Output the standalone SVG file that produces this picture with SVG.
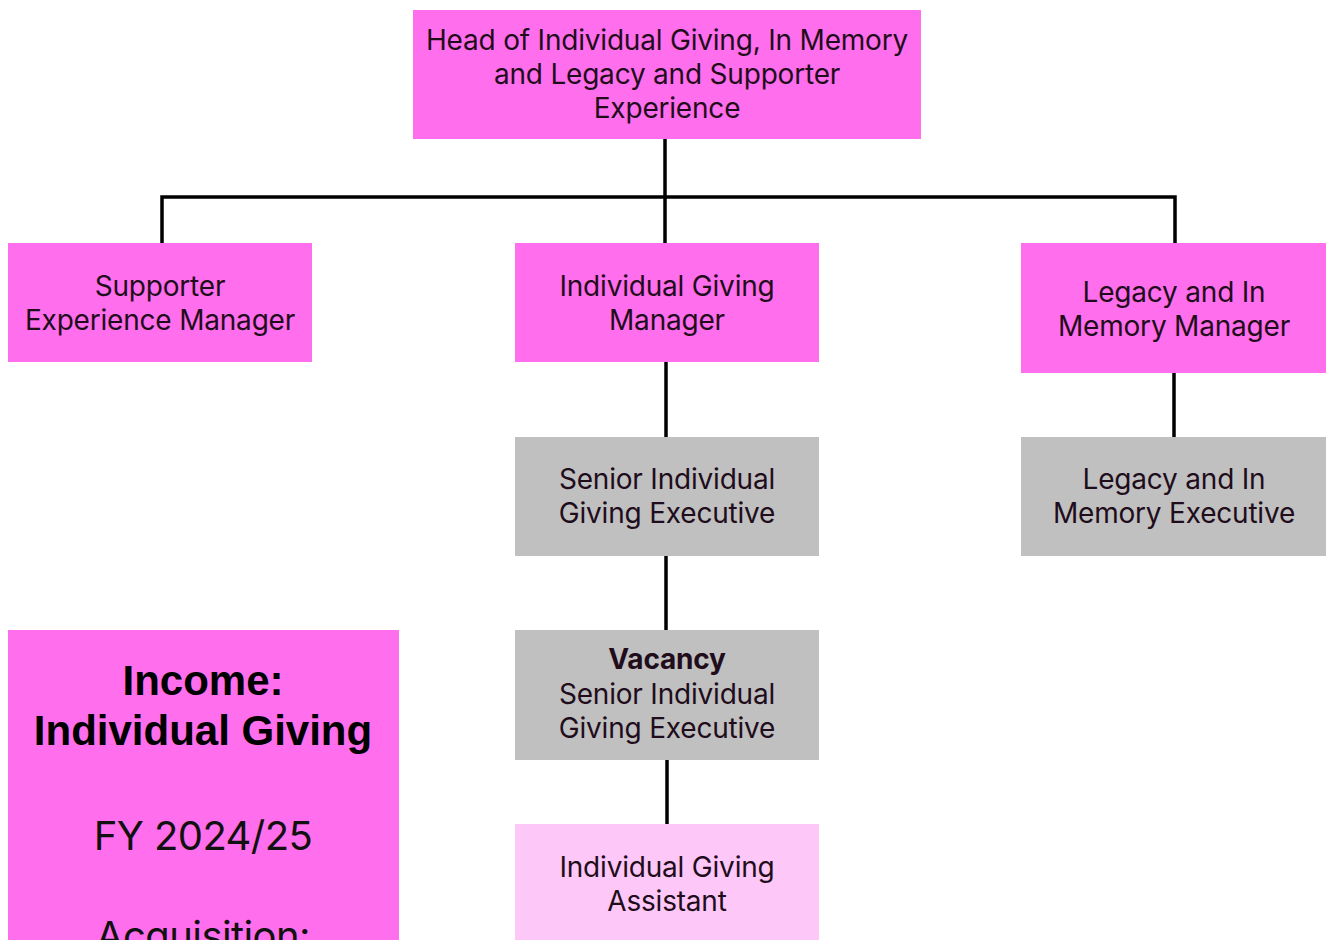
<svg xmlns="http://www.w3.org/2000/svg" width="1328" height="940" viewBox="0 0 1328 940">
<style>
.pink{fill:#FF6EEC}
.grey{fill:#C0C0C0}
.light{fill:#FDC8F7}
.t{font-family:Inter,"Noto Sans",sans-serif;font-size:28px;fill:#1f0d1c;text-anchor:middle;letter-spacing:-0.2px}
.b{font-weight:bold}
.conn{stroke:#000;stroke-width:3.5;fill:none}
.big{font-family:"Liberation Sans",Arial,sans-serif;font-weight:bold;font-size:42px;fill:#000;text-anchor:middle}
.fy{font-family:Inter,"Noto Sans",sans-serif;font-size:40px;fill:#111;text-anchor:middle;letter-spacing:-0.6px}
</style>
<rect width="1328" height="940" fill="#fff"/>
<g id="connectors">
<path class="conn" d="M665 139V243"/>
<path class="conn" d="M162 243V197H1175V243"/>
<path class="conn" d="M666 362V437"/>
<path class="conn" d="M666 556V630"/>
<path class="conn" d="M667 760V824"/>
<path class="conn" d="M1174 373V437"/>
</g>
<g id="head">
<rect class="pink" x="413" y="10" width="508" height="129"/>
<text class="t" x="667" y="50">Head of Individual Giving, In Memory</text>
<text class="t" x="667" y="84">and Legacy and Supporter</text>
<text class="t" x="667" y="118">Experience</text>
</g>
<g id="supporter-experience-manager">
<rect class="pink" x="8" y="243" width="304" height="119"/>
<text class="t" x="160" y="296">Supporter</text>
<text class="t" x="160" y="330">Experience Manager</text>
</g>
<g id="individual-giving-manager">
<rect class="pink" x="515" y="243" width="304" height="119"/>
<text class="t" x="667" y="296">Individual Giving</text>
<text class="t" x="667" y="330">Manager</text>
</g>
<g id="legacy-manager">
<rect class="pink" x="1021" y="243" width="305" height="130"/>
<text class="t" x="1174" y="302">Legacy and In</text>
<text class="t" x="1174" y="336">Memory Manager</text>
</g>
<g id="senior-ig-executive">
<rect class="grey" x="515" y="437" width="304" height="119"/>
<text class="t" x="667" y="489">Senior Individual</text>
<text class="t" x="667" y="523">Giving Executive</text>
</g>
<g id="legacy-executive">
<rect class="grey" x="1021" y="437" width="305" height="119"/>
<text class="t" x="1174" y="489">Legacy and In</text>
<text class="t" x="1174" y="523">Memory Executive</text>
</g>
<g id="vacancy">
<rect class="grey" x="515" y="630" width="304" height="130"/>
<text class="t b" x="667" y="669">Vacancy</text>
<text class="t" x="667" y="704">Senior Individual</text>
<text class="t" x="667" y="738">Giving Executive</text>
</g>
<g id="ig-assistant">
<rect class="light" x="515" y="824" width="304" height="130"/>
<text class="t" x="667" y="877">Individual Giving</text>
<text class="t" x="667" y="911">Assistant</text>
</g>
<g id="income-panel">
<rect class="pink" x="8" y="630" width="391" height="320"/>
<text class="big" x="203" y="695">Income:</text>
<text class="big" x="203" y="745">Individual Giving</text>
<text class="fy" x="203" y="850">FY 2024/25</text>
<text class="fy" x="203" y="950">Acquisition:</text>
</g>
</svg>
